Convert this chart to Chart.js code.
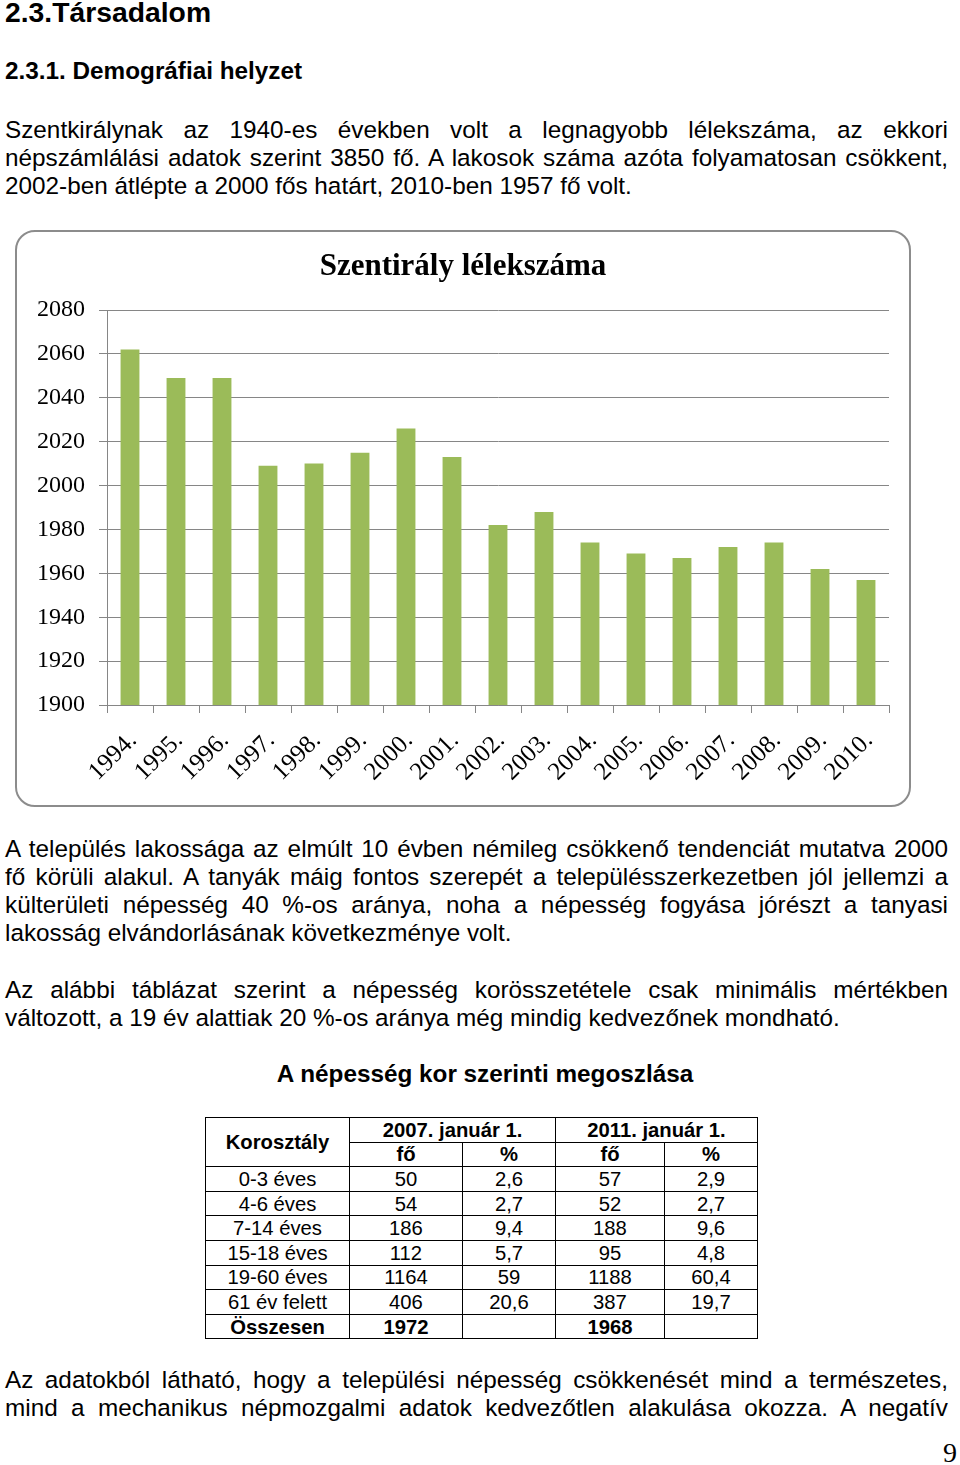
<!DOCTYPE html>
<html><head><meta charset="utf-8">
<script src="https://cdn.jsdelivr.net/npm/chart.js@4.4.1/dist/chart.umd.min.js"></script>
<style>
html,body{margin:0;padding:0;background:#fff}
body{width:960px;height:1465px;position:relative;overflow:hidden;font-family:"Liberation Sans",Arial,sans-serif;color:#000}
.l{position:absolute;left:5px;width:943px;font-size:24.3px;line-height:28px;height:28px;white-space:normal;text-align:left}
.j{text-align:justify;text-align-last:justify}
.b{font-weight:bold}
#box{position:absolute;left:15px;top:230px;width:892px;height:573px;border:2px solid #8c8c8c;border-radius:20px;background:#fff}
#c{display:block}
#t{position:absolute;left:205px;top:1117px;width:552px;border-collapse:collapse;table-layout:fixed;font-size:20.25px}
#t td,#t th{border:1.5px solid #000;padding:0;text-align:center;height:23.6px;line-height:22px;font-weight:normal}
#t th,#t .bb{font-weight:bold}
#pg{position:absolute;left:943px;top:1436px;font-family:"Liberation Serif",serif;font-size:28px;line-height:34px}
.pre{position:absolute;left:-1000px;top:0;font-family:"Liberation Serif";font-size:24px}
</style></head>
<body>
<span class="pre">1994 2080</span><span class="pre" style="font-weight:bold">Szentirály</span>
<div class="l b" style="top:-5px;font-size:28.3px;line-height:34px;height:34px">2.3.Társadalom</div>
<div class="l b" style="top:57px">2.3.1. Demográfiai helyzet</div>

<div class="l j" style="top:116px">Szentkirálynak az 1940-es években volt a legnagyobb lélekszáma, az ekkori</div>
<div class="l j" style="top:144px">népszámlálási adatok szerint 3850 fő. A lakosok száma azóta folyamatosan csökkent,</div>
<div class="l" style="top:172px">2002-ben átlépte a 2000 fős határt, 2010-ben 1957 fő volt.</div>

<div id="box"><canvas id="c" width="892" height="573"></canvas></div>

<div class="l j" style="top:835px">A település lakossága az elmúlt 10 évben némileg csökkenő tendenciát mutatva 2000</div>
<div class="l j" style="top:863px">fő körüli alakul. A tanyák máig fontos szerepét a településszerkezetben jól jellemzi a</div>
<div class="l j" style="top:891px">külterületi népesség 40 %-os aránya, noha a népesség fogyása jórészt a tanyasi</div>
<div class="l" style="top:919px">lakosság elvándorlásának következménye volt.</div>

<div class="l j" style="top:976px">Az alábbi táblázat szerint a népesség korösszetétele csak minimális mértékben</div>
<div class="l" style="top:1004px">változott, a 19 év alattiak 20 %-os aránya még mindig kedvezőnek mondható.</div>

<div class="l b" style="top:1060px;text-align:center;left:0;width:970px">A népesség kor szerinti megoszlása</div>

<table id="t">
<colgroup><col style="width:144px"><col style="width:113px"><col style="width:93px"><col style="width:109px"><col style="width:93px"></colgroup>
<tbody id="tb"></tbody>
</table>

<div class="l j" style="top:1366px">Az adatokból látható, hogy a települési népesség csökkenését mind a természetes,</div>
<div class="l j" style="top:1394px">mind a mechanikus népmozgalmi adatok kedvezőtlen alakulása okozza. A negatív</div>

<div id="pg">9</div>

<script>
// Chart data
const years = ['1994.','1995.','1996.','1997.','1998.','1999.','2000.','2001.','2002.','2003.','2004.','2005.','2006.','2007.','2008.','2009.','2010.'];
const population = [2062, 2049, 2049, 2009, 2010, 2015, 2026, 2013, 1982, 1988, 1974, 1969, 1967, 1972, 1974, 1962, 1957];
const yMin = 1900, yMax = 2080, yStep = 20;
const chartTitle = 'Szentirály lélekszáma';

// Table data
const ageGroups = ['0-3 éves','4-6 éves','7-14 éves','15-18 éves','19-60 éves','61 év felett'];
const persons2007 = ['50','54','186','112','1164','406'];
const pct2007 = ['2,6','2,7','9,4','5,7','59','20,6'];
const persons2011 = ['57','52','188','95','1188','387'];
const pct2011 = ['2,9','2,7','9,6','4,8','60,4','19,7'];
const totals = ['Összesen','1972','','1968',''];

// Build table
const tb = document.getElementById('tb');
let html = '<tr><th rowspan="2">Korosztály</th><th colspan="2">2007. január 1.</th><th colspan="2">2011. január 1.</th></tr>';
html += '<tr><th>fő</th><th>%</th><th>fő</th><th>%</th></tr>';
ageGroups.forEach((g,i)=>{
  html += '<tr><td>'+g+'</td><td>'+persons2007[i]+'</td><td>'+pct2007[i]+'</td><td>'+persons2011[i]+'</td><td>'+pct2011[i]+'</td></tr>';
});
html += '<tr>' + totals.map(v=>'<td class="bb">'+v+'</td>').join('') + '</tr>';
tb.innerHTML = html;

const gridColor = '#868686';
function draw() {
  new Chart(document.getElementById('c'), {
    type: 'bar',
    data: {
      labels: years,
      datasets: [{ data: population, backgroundColor: '#9BBB59', barPercentage: 0.41, categoryPercentage: 1 }]
    },
    options: {
      responsive: false,
      animation: false,
      devicePixelRatio: 1,
      layout: { padding: { left: 20, right: 20, top: 0, bottom: 0 } },
      plugins: {
        legend: { display: false },
        tooltip: { enabled: false },
        title: {
          display: true, text: chartTitle, color: '#000',
          font: { family: "'Liberation Serif', serif", size: 31, weight: 'bold', lineHeight: 1.2 },
          padding: { top: 16.4, bottom: 24.4 }
        }
      },
      scales: {
        x: {
          grid: { display: true, drawOnChartArea: false, drawTicks: true, tickLength: 8, color: gridColor, offset: true },
          border: { display: true, color: gridColor },
          ticks: { minRotation: 45, maxRotation: 45, autoSkip: false, color: '#000', font: { family: "'Liberation Serif', serif", size: 25 }, padding: 13, labelOffset: 3 },
          afterFit(s) { s.height = 100; }
        },
        y: {
          min: yMin, max: yMax,
          ticks: { stepSize: yStep, color: '#000', font: { family: "'Liberation Serif', serif", size: 24 }, padding: 14, callback: v => String(v) },
          grid: { color: gridColor, tickLength: 8 },
          border: { display: true, color: gridColor },
          afterFit(s) { s.width = 70; }
        }
      }
    }
  });
}
Promise.all([
  document.fonts.load('24px "Liberation Serif"'),
  document.fonts.load('bold 31px "Liberation Serif"')
]).then(draw, draw);
</script>
</body></html>
